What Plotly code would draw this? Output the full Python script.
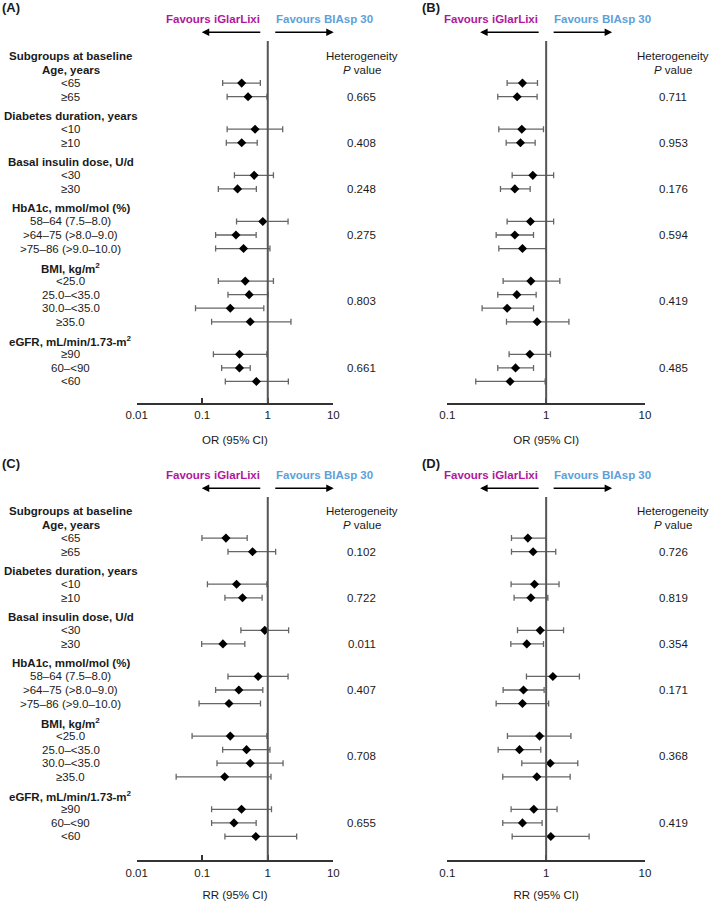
import plotly.graph_objects as go

W, H = 709, 901
FONT = "Liberation Sans, Arial, sans-serif"
TXT = "#1a1a1a"

# ---------------- data ----------------
groups = ["Age, years", "Diabetes duration, years", "Basal insulin dose, U/d",
          "HbA1c, mmol/mol (%)", "BMI, kg/m<sup>2</sup>", "eGFR, mL/min/1.73-m<sup>2</sup>"]
subgroups = [["<65", "≥65"],
             ["<10", "≥10"],
             ["<30", "≥30"],
             ["58–64 (7.5–8.0)", ">64–75 (>8.0–9.0)", ">75–86 (>9.0–10.0)"],
             ["<25.0", "25.0–<35.0", "30.0–<35.0", "≥35.0"],
             ["≥90", "60–<90", "<60"]]

# Panel A (OR)
a_est = [0.40, 0.50, 0.64, 0.40, 0.62, 0.346, 0.84, 0.327, 0.427, 0.453, 0.52, 0.268, 0.54, 0.37, 0.37, 0.67]
a_lo = [0.205, 0.24, 0.24, 0.233, 0.31, 0.176, 0.334, 0.16, 0.16, 0.176, 0.247, 0.079, 0.139, 0.148, 0.198, 0.225]
a_hi = [0.77, 0.97, 1.69, 0.69, 1.22, 0.67, 2.04, 0.665, 1.08, 1.22, 1.01, 0.87, 2.26, 0.97, 0.54, 2.06]
a_p = ["0.665", "0.408", "0.248", "0.275", "0.803", "0.661"]

# Panel B (OR)
b_est = [0.576, 0.509, 0.567, 0.55, 0.733, 0.482, 0.694, 0.482, 0.576, 0.70, 0.505, 0.403, 0.81, 0.684, 0.49, 0.432]
b_lo = [0.403, 0.324, 0.332, 0.394, 0.453, 0.345, 0.403, 0.312, 0.332, 0.367, 0.324, 0.225, 0.397, 0.422, 0.324, 0.194]
b_hi = [0.817, 0.81, 0.94, 0.774, 1.19, 0.689, 1.19, 0.745, 1.0, 1.375, 0.792, 0.745, 1.70, 1.106, 0.745, 0.977]
b_p = ["0.711", "0.953", "0.176", "0.594", "0.419", "0.485"]

# Panel C (RR)
c_est = [0.23, 0.585, 0.334, 0.412, 0.90, 0.207, 0.713, 0.362, 0.256, 0.268, 0.474, 0.54, 0.22, 0.398, 0.305, 0.657]
c_lo = [0.099, 0.247, 0.12, 0.222, 0.389, 0.098, 0.247, 0.16, 0.0895, 0.070, 0.205, 0.168, 0.040, 0.139, 0.139, 0.222]
c_hi = [0.485, 1.32, 0.97, 0.82, 2.08, 0.447, 2.04, 0.84, 0.774, 0.97, 1.08, 1.71, 1.12, 1.14, 0.665, 2.76]
c_p = ["0.102", "0.722", "0.011", "0.407", "0.708", "0.655"]

# Panel D (RR)
d_est = [0.653, 0.738, 0.762, 0.70, 0.87, 0.637, 1.17, 0.59, 0.576, 0.857, 0.537, 1.10, 0.805, 0.75, 0.576, 1.115]
d_lo = [0.446, 0.446, 0.442, 0.474, 0.513, 0.439, 0.632, 0.367, 0.312, 0.406, 0.327, 0.567, 0.364, 0.442, 0.364, 0.453]
d_hi = [1.0, 1.25, 1.35, 1.04, 1.50, 0.94, 2.17, 0.954, 1.06, 1.78, 0.883, 2.09, 1.75, 1.29, 0.91, 2.72]
d_p = ["0.726", "0.819", "0.354", "0.171", "0.368", "0.419"]

ticks_wide = [0.01, 0.1, 1, 10]
ticks_narrow = [0.1, 1, 10]

# ---------------- layout of rows (row units) ----------------
GAP = 0.4
pval_pos = [1, 1, 1, 1, 1.5, 1]   # position of p value within each group
header_y = []
item_y = []
pval_y = []
u = 1.0
for gi, items in enumerate(subgroups):
    if gi > 0:
        u += GAP
    header_y.append(u)
    u += 1
    ys = []
    for _ in items:
        ys.append(u)
        u += 1
    item_y.append(ys)
    pval_y.append(ys[0] + pval_pos[gi])
flat_y = [y for ys in item_y for y in ys]

ROW_PX = 13.56


def py(p):
    return 1 - p / H


def px(p):
    return p / W


panels = [
    dict(tag="(A)", ax="", est=a_est, lo=a_lo, hi=a_hi, p=a_p, ticks=ticks_wide,
         xdom=(136.7, 333.3), top=41, first=56, bottom=402.7, title="OR (95% CI)",
         labels=True, het_x=361.7, letter_x=0, fav_y=19, arrow_y=32.3, letter_y=8),
    dict(tag="(B)", ax="2", est=b_est, lo=b_lo, hi=b_hi, p=b_p, ticks=ticks_narrow,
         xdom=(447.3, 645.0), top=41, first=56, bottom=402.7, title="OR (95% CI)",
         labels=False, het_x=673, letter_x=420, fav_y=19, arrow_y=32.3, letter_y=8),
    dict(tag="(C)", ax="3", est=c_est, lo=c_lo, hi=c_hi, p=c_p, ticks=ticks_wide,
         xdom=(136.7, 333.3), top=497, first=511, bottom=860, title="RR (95% CI)",
         labels=True, het_x=361.7, letter_x=0, fav_y=475, arrow_y=488.3, letter_y=463),
    dict(tag="(D)", ax="4", est=d_est, lo=d_lo, hi=d_hi, p=d_p, ticks=ticks_narrow,
         xdom=(447.3, 645.0), top=497, first=511, bottom=860, title="RR (95% CI)",
         labels=False, het_x=673, letter_x=420, fav_y=475, arrow_y=488.3, letter_y=463),
]

fig = go.Figure()
annotations = []
shapes = []
layout_axes = {}


def fnt(size=11.5, color=TXT):
    return dict(size=size, color=color, family=FONT)


for pn in panels:
    xa = "x" + pn["ax"]
    ya = "y" + pn["ax"]
    xkey = "xaxis" + pn["ax"]
    ykey = "yaxis" + pn["ax"]
    est, lo, hi = pn["est"], pn["lo"], pn["hi"]

    fig.add_trace(go.Scatter(
        x=est, y=flat_y, mode="markers", xaxis=xa, yaxis=ya, showlegend=False,
        marker=dict(symbol="diamond", size=7, color="black"),
        error_x=dict(type="data", symmetric=False,
                     array=[h - e for h, e in zip(hi, est)],
                     arrayminus=[e - l for e, l in zip(est, lo)],
                     color="#666666", thickness=1.3, width=3),
        hoverinfo="skip",
    ))

    r_top = (pn["top"] - pn["first"]) / ROW_PX
    r_bot = (pn["bottom"] - pn["first"]) / ROW_PX
    lg = [-2, 1] if len(pn["ticks"]) == 4 else [-1, 1]
    dec_px = (pn["xdom"][1] - pn["xdom"][0]) / (lg[1] - lg[0])

    layout_axes[xkey] = dict(
        type="log", range=lg, domain=[px(pn["xdom"][0]), px(pn["xdom"][1])],
        anchor=ya, showline=True, linecolor="#333333", linewidth=1.5,
        ticks="inside", ticklen=5, tickwidth=1.5, tickcolor="#333333",
        tickvals=pn["ticks"], ticktext=[("%g" % t) for t in pn["ticks"]],
        tickfont=fnt(), automargin=False, ticklabelstandoff=1,
        showgrid=False, zeroline=False,
        title=dict(text=pn["title"], font=fnt(), standoff=16),
    )
    layout_axes[ykey] = dict(
        range=[r_bot, r_top], domain=[py(pn["bottom"]), py(pn["top"])],
        anchor=xa, visible=False, showgrid=False, zeroline=False, automargin=False,
    )

    # reference line at 1
    shapes.append(dict(type="line", xref=xa, x0=1, x1=1, yref=ya + " domain", y0=0, y1=1,
                       line=dict(color="#555555", width=2)))

    # favours text + arrows (annotation x on a log axis is given in log10 units; 0 == value 1)
    annotations.append(dict(xref=xa, x=0, xanchor="right", xshift=-6, yref="paper",
                            y=py(pn["fav_y"]), yanchor="middle",
                            text="<b>Favours iGlarLixi</b>", showarrow=False,
                            font=fnt(11.5, "#B0179C")))
    annotations.append(dict(xref=xa, x=0, xanchor="left", xshift=6, yref="paper",
                            y=py(pn["fav_y"]), yanchor="middle",
                            text="<b>Favours BIAsp 30</b>", showarrow=False,
                            font=fnt(11.5, "#5E9FD8")))
    annotations.append(dict(xref=xa, x=-66 / dec_px, axref=xa, ax=-6 / dec_px, yref="paper",
                            y=py(pn["arrow_y"]), ay=0,
                            text="", showarrow=True, arrowhead=2, arrowsize=1,
                            arrowwidth=1.5, arrowcolor="black", standoff=0, startstandoff=0))
    annotations.append(dict(xref=xa, x=66 / dec_px, axref=xa, ax=6 / dec_px, yref="paper",
                            y=py(pn["arrow_y"]), ay=0,
                            text="", showarrow=True, arrowhead=2, arrowsize=1,
                            arrowwidth=1.5, arrowcolor="black", standoff=0, startstandoff=0))

    # panel letter
    annotations.append(dict(xref="paper", x=px(pn["letter_x"]), xanchor="left", yref="paper",
                            y=py(pn["letter_y"]), yanchor="middle",
                            text="<b>%s</b>" % pn["tag"], showarrow=False, font=fnt(13)))

    # heterogeneity column
    hx = px(pn["het_x"])
    annotations.append(dict(xref="paper", x=hx, xanchor="center", yref=ya, y=0, yanchor="middle",
                            text="Heterogeneity", showarrow=False, font=fnt()))
    annotations.append(dict(xref="paper", x=hx, xanchor="center", yref=ya, y=1, yanchor="middle",
                            text="<i>P</i> value", showarrow=False, font=fnt()))
    for pv, yv in zip(pn["p"], pval_y):
        annotations.append(dict(xref="paper", x=hx, xanchor="center", yref=ya, y=yv, yanchor="middle",
                                text=pv, showarrow=False, font=fnt()))

    # subgroup labels
    if pn["labels"]:
        lx = px(70.5)
        annotations.append(dict(xref="paper", x=lx, xanchor="center", yref=ya, y=0, yanchor="middle",
                                text="<b>Subgroups at baseline</b>", showarrow=False, font=fnt()))
        for g, hy, items, ys in zip(groups, header_y, subgroups, item_y):
            annotations.append(dict(xref="paper", x=lx, xanchor="center", yref=ya, y=hy,
                                    yanchor="middle", text="<b>%s</b>" % g, showarrow=False,
                                    font=fnt()))
            for it, yv in zip(items, ys):
                annotations.append(dict(xref="paper", x=lx, xanchor="center", yref=ya, y=yv,
                                        yanchor="middle", text=it, showarrow=False, font=fnt()))

fig.update_layout(
    template="none",
    width=W, height=H, autosize=False,
    margin=dict(l=0, r=0, t=0, b=0, pad=0),
    paper_bgcolor="white", plot_bgcolor="white",
    font=dict(family=FONT, size=11.5, color=TXT),
    annotations=annotations, shapes=shapes,
    **layout_axes,
)

fig.write_html("out.html", config={"displayModeBar": False},
               post_script="document.body.style.margin='0';document.body.style.overflow='hidden';")
